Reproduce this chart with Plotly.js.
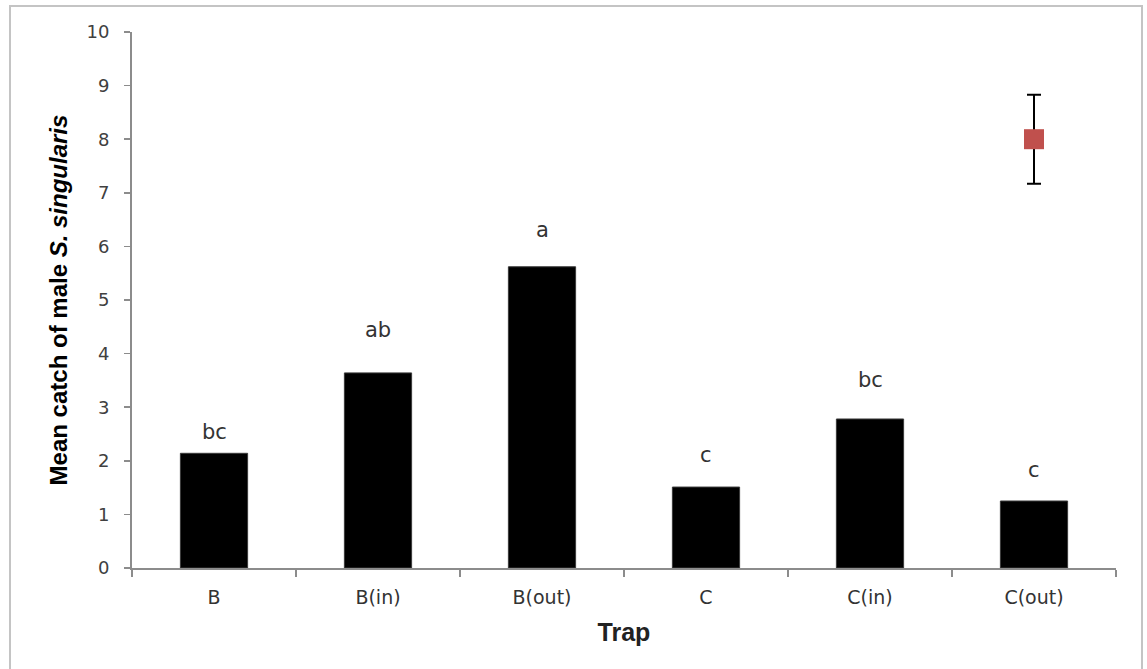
<!DOCTYPE html>
<html>
<head>
<meta charset="utf-8">
<script src="https://cdn.plot.ly/plotly-3.0.1.min.js"></script>
<style>
  html, body { margin: 0; padding: 0; background: #fff; }
  #wrap { position: relative; width: 1147px; height: 669px; overflow: hidden; }
  #chart { position: absolute; left: 0; top: 0; width: 1147px; height: 669px; }
  #frame { position: absolute; left: 9px; top: 5px; width: 1134px; height: 680px;
           border: 2px solid #c4c4c4; pointer-events: none; box-sizing: border-box; }
</style>
</head>
<body>
<div id="wrap">
  <div id="chart"></div>
  <div id="frame"></div>
</div>
<script>
// Trap types and mean catch per trap
const traps = ['B', 'B(in)', 'B(out)', 'C', 'C(in)', 'C(out)'];
const meanCatch = [2.14, 3.64, 5.62, 1.51, 2.78, 1.25];

// Significance letters and the height at which each is written
const sigLetters = ['bc', 'ab', 'a', 'c', 'bc', 'c'];
const letterHeights = [2.54, 4.44, 6.31, 2.11, 3.51, 1.83];

// Single extra point with its error bar
const pointTrap = ['C(out)'];
const pointValue = [8.0];
const pointError = [0.83];

// Y axis ticks
const yTicks = [0, 1, 2, 3, 4, 5, 6, 7, 8, 9, 10];

const bars = {
  type: 'bar',
  x: traps,
  y: meanCatch,
  width: 0.41,
  marker: { color: '#000000', line: { color: '#3a3a3a', width: 1 } },
  hoverinfo: 'x+y',
  showlegend: false
};

const point = {
  type: 'scatter',
  mode: 'markers',
  x: pointTrap,
  y: pointValue,
  marker: { symbol: 'square', size: 20, color: '#c0504d', line: { width: 0 } },
  error_y: { type: 'data', array: pointError, visible: true, color: '#000000', thickness: 2, width: 7 },
  showlegend: false
};

const annotations = traps.map((t, i) => ({
  x: t,
  y: letterHeights[i],
  xref: 'x',
  yref: 'y',
  text: sigLetters[i],
  showarrow: false,
  font: { family: 'DejaVu Sans, Verdana, sans-serif', size: 21, color: '#333333' }
}));

const layout = {
  width: 1147,
  height: 669,
  paper_bgcolor: '#ffffff',
  plot_bgcolor: '#ffffff',
  margin: { l: 132, r: 31, t: 32, b: 101 },
  xaxis: {
    type: 'category',
    categoryorder: 'array',
    categoryarray: traps,
    showline: true,
    linecolor: '#8c8c8c',
    linewidth: 2,
    ticks: 'outside',
    tickson: 'boundaries',
    ticklen: 7,
    tickwidth: 1.5,
    tickcolor: '#8c8c8c',
    showgrid: false,
    zeroline: false,
    tickfont: { family: 'DejaVu Sans, Verdana, sans-serif', size: 19, color: '#333333' },
    ticklabelstandoff: 11,
    title: { text: 'Trap', standoff: 17,
             font: { family: 'Liberation Sans, Arial, sans-serif', size: 25, color: '#222222', weight: 'bold' } }
  },
  yaxis: {
    range: [0, 10],
    tickvals: yTicks,
    showline: true,
    linecolor: '#8c8c8c',
    linewidth: 2,
    ticks: 'outside',
    ticklen: 6,
    tickwidth: 1.5,
    tickcolor: '#8c8c8c',
    showgrid: false,
    zeroline: false,
    tickfont: { family: 'DejaVu Sans, Verdana, sans-serif', size: 18, color: '#404040' },
    ticklabelstandoff: 11,
    title: { text: 'Mean catch of male <i>S. singularis</i>', standoff: 12,
             font: { family: 'Liberation Sans, Arial, sans-serif', size: 24, color: '#000000', weight: 'bold' } }
  },
  annotations: annotations,
  bargap: 0.59
};

Plotly.newPlot('chart', [bars, point], layout, { displayModeBar: false, staticPlot: true });
</script>
</body>
</html>
